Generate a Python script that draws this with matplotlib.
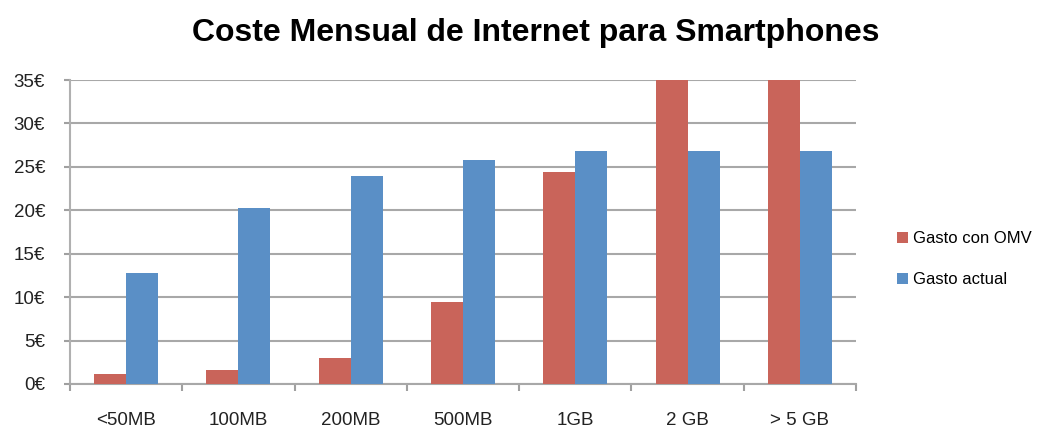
import matplotlib
matplotlib.use("Agg")
import matplotlib.pyplot as plt
import numpy as np

categories = ["<50MB", "100MB", "200MB", "500MB", "1GB", "2 GB", "> 5 GB"]
gasto_omv = [1.2, 1.6, 3.0, 9.4, 24.4, 35.0, 35.0]
gasto_actual = [12.8, 20.3, 23.9, 25.8, 26.8, 26.8, 26.8]
yticks = [0, 5, 10, 15, 20, 25, 30, 35]
ytick_labels = [f"{v}€" for v in yticks]
series_names = ["Gasto con OMV", "Gasto actual"]

plt.rcParams['font.family'] = ['Liberation Sans', 'DejaVu Sans']

fig = plt.figure(figsize=(10.53, 4.29), dpi=100)
ax = fig.add_axes([0.0665, 0.105, 0.7465, 0.7085])

x = np.arange(len(categories))
w = 0.285
red = "#C9645A"
blue = "#5A8FC6"
ax.bar(x - w/2, gasto_omv, w, color=red, label=series_names[0], zorder=3)
ax.bar(x + w/2, gasto_actual, w, color=blue, label=series_names[1], zorder=3)

ax.set_xlim(-0.5, len(categories) - 0.5)
ax.set_ylim(0, 35)
ax.set_yticks(yticks)
ax.set_yticklabels(ytick_labels, fontsize=13.5, color="#222222")
ax.set_xticks(x)
ax.set_xticklabels(categories, fontsize=13.5, color="#222222")
ax.tick_params(axis='x', length=0, pad=20)
ax.set_xticks(np.arange(len(categories) + 1) - 0.5, minor=True)
ax.tick_params(axis='x', which='minor', length=5, color="#A0A0A0", width=1.5)
ax.tick_params(axis='y', length=4, color="#A0A0A0", width=1.5, pad=14)

ax.yaxis.grid(True, color="#A8A8A8", linewidth=1.5, zorder=0)
for s in ["top", "right"]:
    ax.spines[s].set_visible(False)
ax.spines["left"].set_color("#B0B0B0")
ax.spines["left"].set_linewidth(1.5)
ax.spines["bottom"].set_color("#A8A8A8")
ax.spines["bottom"].set_linewidth(1.5)

fig.suptitle("Coste Mensual de Internet para Smartphones", fontsize=23, fontweight="bold",
             x=0.509, y=0.958)

ax.legend(loc="center left", bbox_to_anchor=(1.033, 0.41), frameon=False, fontsize=12,
          handlelength=0.65, handleheight=0.65, handletextpad=0.3, labelspacing=1.55)

fig.savefig("out.png", dpi=100)
